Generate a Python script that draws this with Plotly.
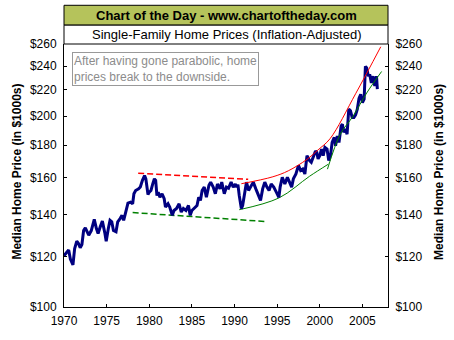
import plotly.graph_objects as go

# Median single-family home price, inflation-adjusted ($1000s)
years = [
    1970.00, 1970.25, 1970.55, 1970.75, 1970.90, 1971.05, 1971.25, 1971.50, 1971.70, 1971.90,
    1972.10, 1972.30, 1972.50, 1972.70, 1972.90, 1973.20, 1973.55, 1973.80, 1974.00, 1974.25,
    1974.50, 1974.80, 1974.95, 1975.20, 1975.40, 1975.60, 1975.80, 1976.10, 1976.30, 1976.60,
    1976.80, 1977.00, 1977.30, 1977.50, 1977.80, 1978.05, 1978.20, 1978.40, 1978.75, 1978.95,
    1979.20, 1979.45, 1979.60, 1979.70, 1979.85, 1980.00, 1980.20, 1980.40, 1980.60, 1980.75,
    1980.90, 1981.05, 1981.25, 1981.50, 1981.75, 1981.90, 1982.20, 1982.40, 1982.70, 1982.90,
    1983.20, 1983.50, 1983.75, 1984.00, 1984.30, 1984.60, 1984.80, 1985.00, 1985.35, 1985.60,
    1985.80, 1986.00, 1986.20, 1986.45, 1986.70, 1987.00, 1987.20, 1987.50, 1987.75, 1988.00,
    1988.30, 1988.50, 1988.80, 1989.05, 1989.30, 1989.60, 1989.85, 1990.10, 1990.25, 1990.40,
    1990.55, 1990.80, 1990.95, 1991.20, 1991.40, 1991.65, 1991.90, 1992.20, 1992.50, 1992.80,
    1993.05, 1993.30, 1993.55, 1993.80, 1994.05, 1994.30, 1994.60, 1994.90, 1995.20, 1995.35,
    1995.60, 1995.90, 1996.20, 1996.45, 1996.70, 1996.90, 1997.20, 1997.50, 1997.75, 1998.00,
    1998.25, 1998.50, 1998.80, 1999.00, 1999.25, 1999.50, 1999.65, 1999.80, 2000.00, 2000.20,
    2000.40, 2000.60, 2000.85, 2001.05, 2001.25, 2001.45, 2001.70, 2001.85, 2002.05, 2002.25,
    2002.50, 2002.65, 2002.80, 2003.00, 2003.20, 2003.40, 2003.60, 2003.80, 2004.00, 2004.20,
    2004.40, 2004.60, 2004.80, 2005.00, 2005.20, 2005.35, 2005.50, 2005.70, 2005.85, 2006.05,
    2006.25, 2006.45, 2006.65, 2006.75,
]
prices = [
    120.5, 121.5, 123.0, 119.0, 117.2, 116.5, 123.7, 127.0, 126.0, 124.0,
    125.5, 132.0, 133.3, 131.4, 129.8, 132.0, 137.5, 133.0, 130.6, 133.8,
    136.6, 130.6, 127.0, 133.0, 137.0, 136.3, 132.0, 131.4, 136.3, 138.0,
    139.5, 137.0, 143.0, 145.9, 146.4, 145.5, 150.9, 152.7, 153.6, 154.6,
    158.4, 161.2, 159.3, 156.3, 150.5, 151.8, 152.7, 156.3, 159.3, 158.4,
    149.9, 151.8, 149.0, 150.9, 148.2, 143.8, 145.5, 143.8, 139.5, 142.0,
    143.0, 145.5, 141.2, 143.0, 142.0, 144.6, 139.5, 142.0, 143.8, 144.6,
    149.0, 147.3, 152.7, 154.6, 149.0, 155.6, 157.4, 154.6, 150.9, 156.3,
    153.6, 157.4, 150.9, 154.6, 154.0, 157.4, 154.6, 156.3, 154.6, 156.0,
    150.0, 143.0, 144.6, 151.8, 157.4, 152.7, 154.6, 157.4, 153.6, 149.9,
    147.3, 153.6, 157.4, 154.6, 152.7, 156.3, 154.6, 151.8, 149.0, 154.6,
    160.2, 156.3, 160.2, 157.4, 154.6, 159.3, 162.1, 167.3, 164.2, 165.1,
    162.1, 173.3, 170.2, 169.2, 173.3, 176.3, 175.3, 171.3, 173.3, 177.5,
    173.3, 178.6, 177.5, 170.2, 173.3, 181.8, 185.2, 179.7, 186.2, 181.8,
    193.0, 194.3, 188.6, 191.0, 187.3, 205.2, 204.0, 199.0, 199.0, 201.0,
    205.2, 213.4, 216.6, 210.1, 212.8, 239.7, 238.3, 231.3, 233.0, 225.7,
    231.3, 223.2, 231.3, 220.7,
]

# Trend lines
red_flat_x = [1978.7, 1991.6]
red_flat_y = [162.6, 159.0]
green_flat_x = [1978.05, 1993.75]
green_flat_y = [140.9, 136.4]
red_curve_x = [1990.8, 1994.5, 1996.3, 1998.5, 1999.8, 2001.2, 2004.2, 2007.15]
red_curve_y = [156.5, 160.5, 164.0, 171.0, 177.0, 184.3, 217.0, 257.4]
green_a_x = [1990.55, 1995.2, 1998.8, 2001.0]
green_a_y = [142.4, 148.6, 160.8, 168.0]
green_b_x = [2000.9, 2002.4, 2003.9, 2005.5, 2007.25]
green_b_y = [165.0, 187.3, 200.0, 217.6, 235.3]

price_ticks = [100, 120, 140, 160, 180, 200, 220, 240, 260]
price_labels = ["$%d" % v for v in price_ticks]
year_ticks = [1970, 1975, 1980, 1985, 1990, 1995, 2000, 2005]

FONT = "Liberation Sans, Arial, sans-serif"
NAVY = "#000080"
RED = "#FF0000"
GREEN = "#008000"

fig = go.Figure()

fig.add_trace(go.Scatter(x=red_flat_x, y=red_flat_y, mode="lines",
                         line=dict(color=RED, width=1.5, dash="6px,3px"), hoverinfo="skip"))
fig.add_trace(go.Scatter(x=green_flat_x, y=green_flat_y, mode="lines",
                         line=dict(color=GREEN, width=1.5, dash="6px,3px"), hoverinfo="skip"))
fig.add_trace(go.Scatter(x=green_a_x, y=green_a_y, mode="lines", line_shape="spline",
                         line=dict(color=GREEN, width=1), hoverinfo="skip"))
fig.add_trace(go.Scatter(x=years, y=prices, mode="lines",
                         line=dict(color=NAVY, width=3)))
fig.add_trace(go.Scatter(x=red_curve_x, y=red_curve_y, mode="lines", line_shape="spline",
                         line=dict(color=RED, width=1), hoverinfo="skip"))
fig.add_trace(go.Scatter(x=green_b_x, y=green_b_y, mode="lines", line_shape="spline",
                         line=dict(color=GREEN, width=1), hoverinfo="skip"))
# carrier for the right-hand price axis
fig.add_trace(go.Scatter(x=[years[0]], y=[prices[0]], yaxis="y2", mode="markers",
                         marker=dict(opacity=0), hoverinfo="skip"))

yrange = [2, 2.41497]
axis_common = dict(
    type="log", range=yrange, tickvals=price_ticks, ticktext=price_labels,
    ticks="inside", ticklen=3, tickcolor="black", showline=True, linecolor="black",
    linewidth=1, showgrid=False, zeroline=False, ticklabelstandoff=4,
    tickfont=dict(family=FONT, size=12, color="black"),
)

fig.update_layout(
    width=454, height=340,
    margin=dict(l=64, r=66, t=44, b=31),
    paper_bgcolor="white", plot_bgcolor="white",
    showlegend=False,
    font=dict(family=FONT, size=12, color="black"),
    xaxis=dict(range=[1970, 2008], tickvals=year_ticks, ticks="inside", ticklen=3,
               tickcolor="black", showline=True, linecolor="black", linewidth=1,
               showgrid=False, zeroline=False, ticklabelstandoff=3,
               tickfont=dict(family=FONT, size=12, color="black")),
    yaxis=dict(side="left", **axis_common),
    yaxis2=dict(side="right", overlaying="y", **axis_common),
)

# Header and subtitle boxes above the plot
fig.add_shape(type="rect", xref="paper", yref="paper", x0=0, x1=1, y0=1.0717, y1=1.1472,
              fillcolor="#B5C35B", line=dict(color="black", width=1))
fig.add_shape(type="rect", xref="paper", yref="paper", x0=0, x1=1, y0=1.0, y1=1.0717,
              fillcolor="white", line=dict(color="black", width=1))
fig.add_annotation(text="<b>Chart of the Day - www.chartoftheday.com</b>", xref="paper", yref="paper",
                   x=0.5, y=1.1095, showarrow=False, xanchor="center", yanchor="middle",
                   font=dict(family=FONT, size=13, color="black"))
fig.add_annotation(text="Single-Family Home Prices (Inflation-Adjusted)", xref="paper", yref="paper",
                   x=0.5, y=1.0358, showarrow=False, xanchor="center", yanchor="middle",
                   font=dict(family=FONT, size=13, color="black"))

# Commentary box
fig.add_annotation(text="After having gone parabolic, home<br>prices break to the downside.",
                   xref="paper", yref="paper", x=0.0247, y=0.97, xanchor="left", yanchor="top",
                   align="left", showarrow=False, bgcolor="white", bordercolor="#999999",
                   borderwidth=1, borderpad=1,
                   font=dict(family=FONT, size=12, color="#8C8C8C"))

# Axis titles on both sides
for xpos in (-0.1435, 1.157):
    fig.add_annotation(text="<b>Median Home Price (in $1000s)</b>", xref="paper", yref="paper",
                       x=xpos, y=0.513, textangle=-90, showarrow=False,
                       xanchor="center", yanchor="middle",
                       font=dict(family=FONT, size=12, color="black"))

fig.write_html("out.html")
